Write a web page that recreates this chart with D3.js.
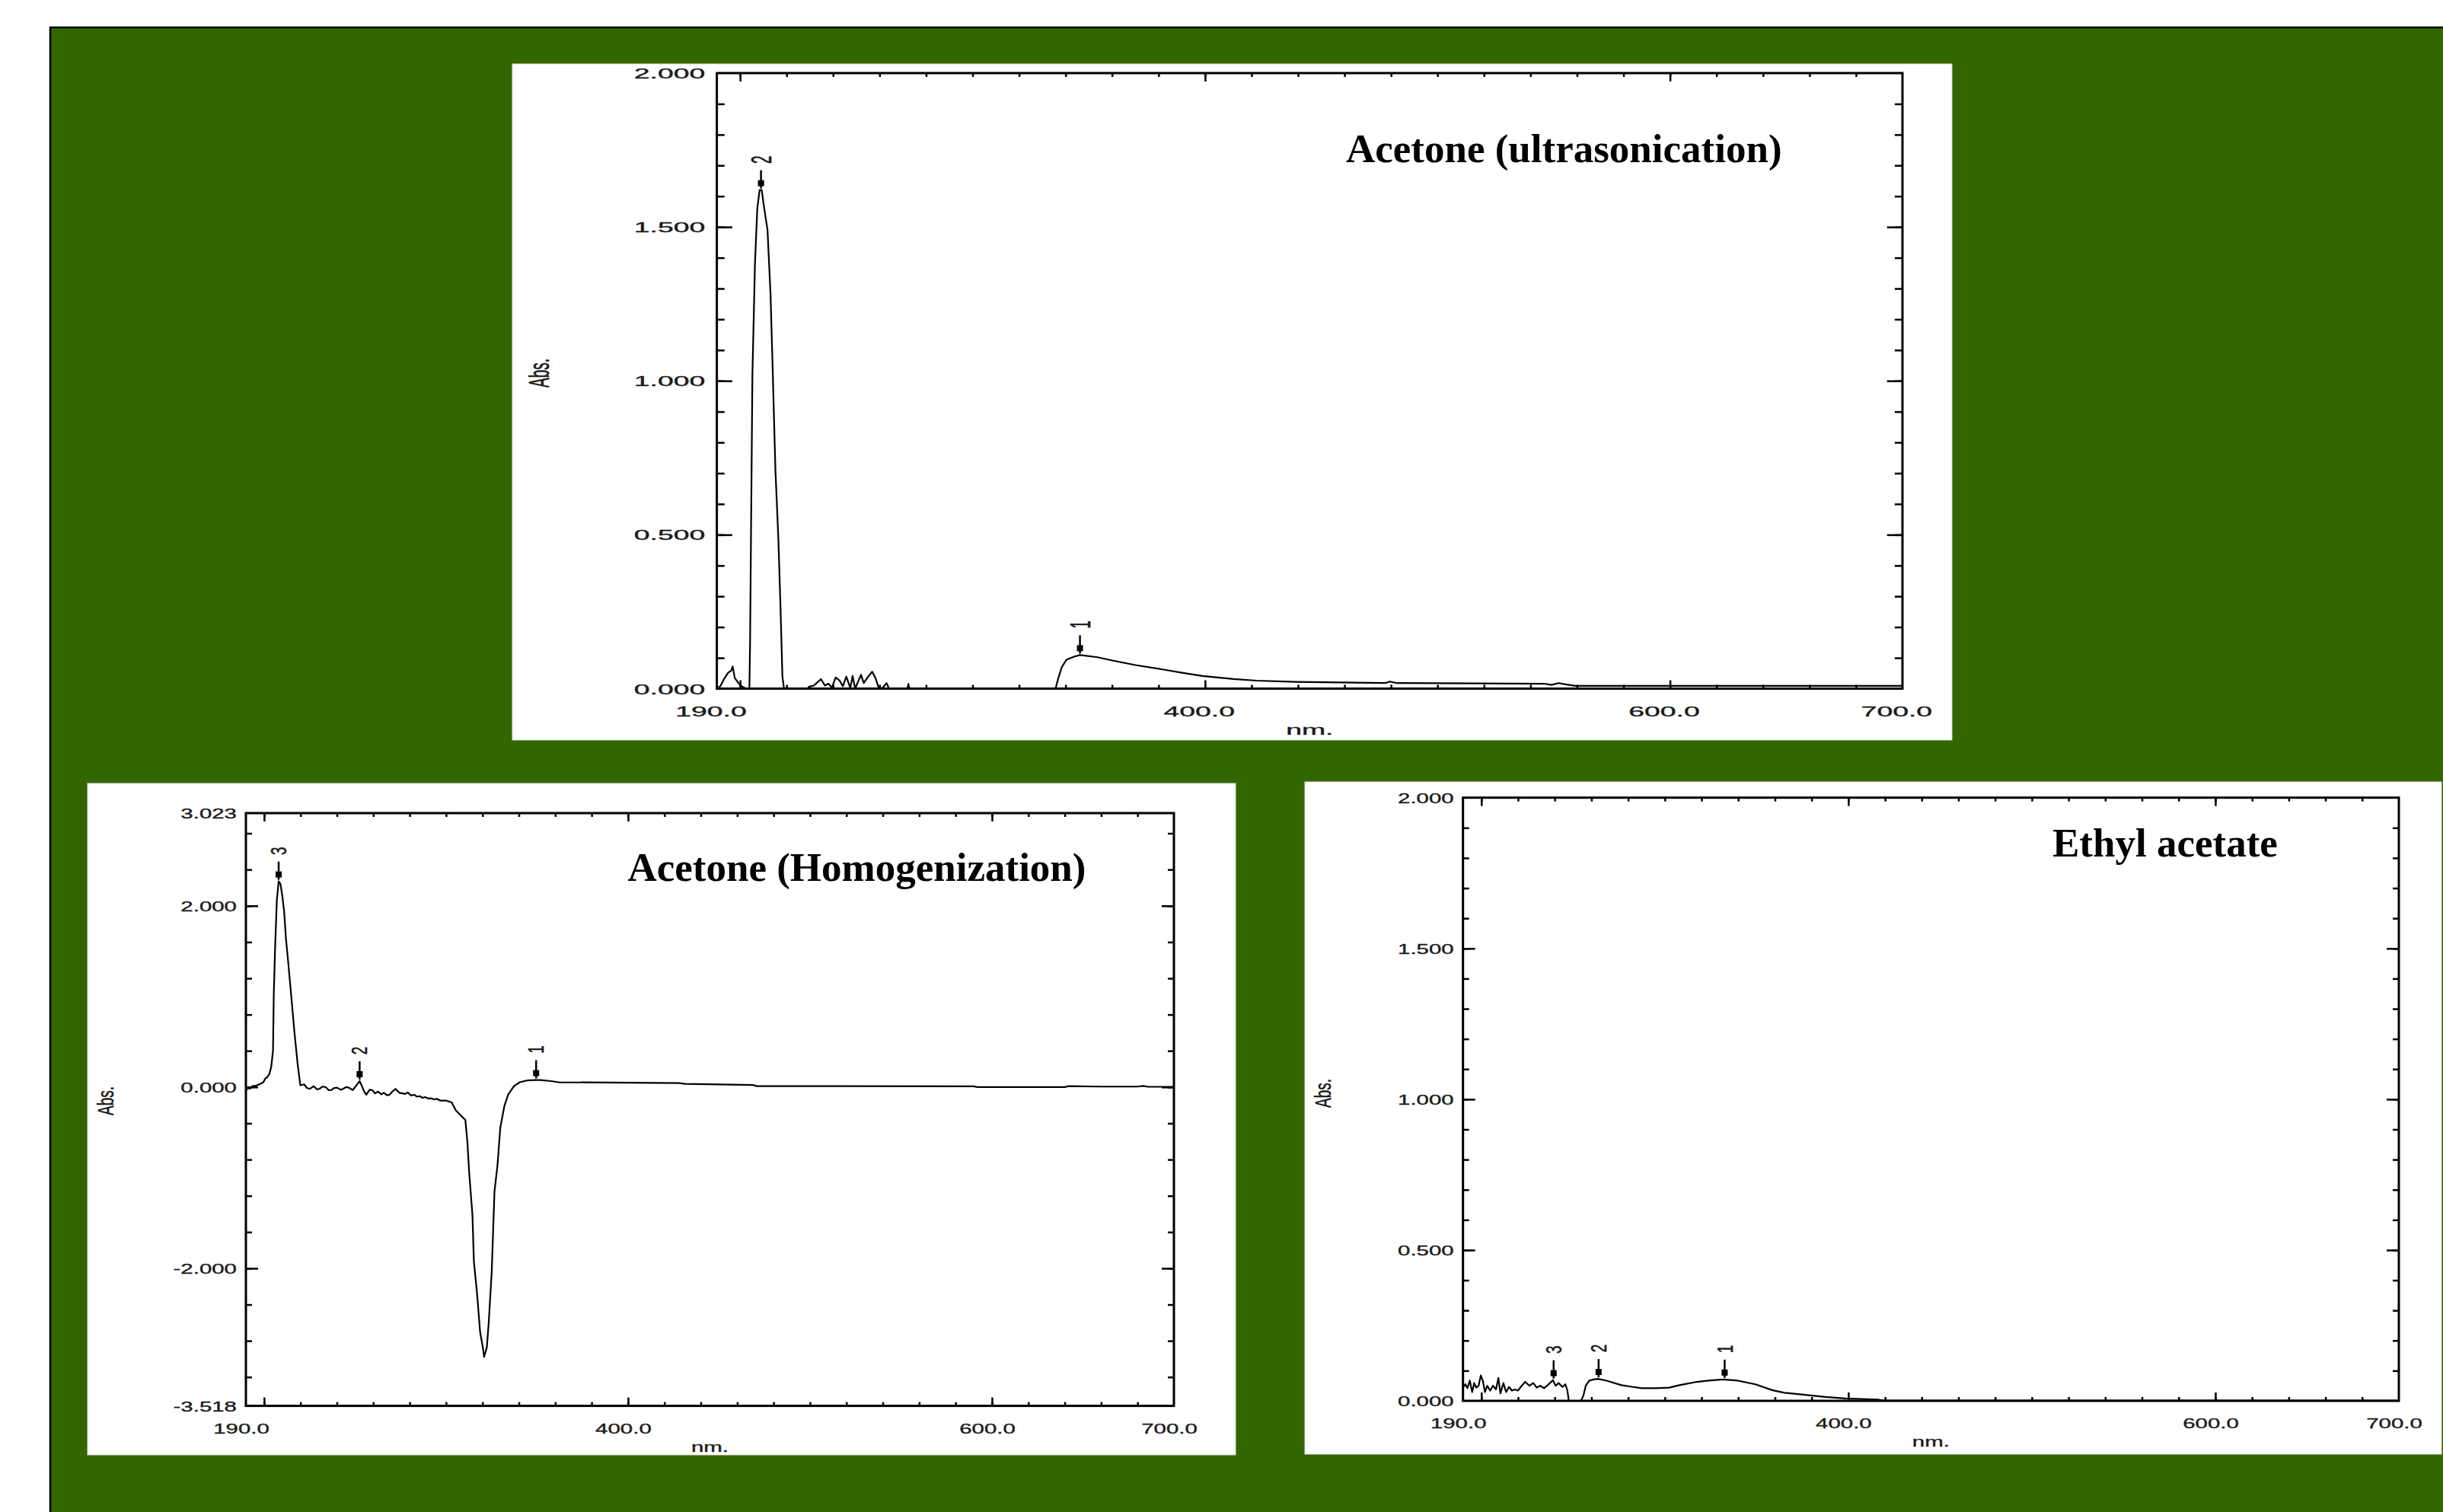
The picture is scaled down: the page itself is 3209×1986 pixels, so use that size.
<!DOCTYPE html>
<html lang="en">
<head>
<meta charset="UTF-8">
<title>UV-Vis spectra</title>
<script src="https://d3js.org/d3.v7.min.js"></script>
<style>
  body { margin: 0; background: #ffffff; }
  svg { display: block; }
  .tick-label { font-family: "Liberation Sans", Arial, sans-serif; font-size: 19px; fill: #1a1a1a; stroke: #1a1a1a; stroke-width: 0.35px; }
  .title { font-family: "Liberation Serif", "Times New Roman", serif; font-weight: bold; font-size: 53px; fill: #000; }
</style>
</head>
<body>
<svg id="chart" width="3209" height="1986"></svg>
<script>
// ---- data ----
// Acetone (ultrasonication)
const ultraNm  = [190, 191.5, 193.1, 194.8, 196.2, 196.8, 197.7, 199.3, 201.0, 202.5, 204.0, 204.3, 205.3, 206.4, 207.4, 208.4, 209.3, 210.2, 211.8, 213.1, 213.9, 215.2, 216.5, 217.4, 218.2, 218.9,
                  229.0, 229.6, 231.7, 234.8, 236.5, 238.0, 239.5, 241.1, 242.8, 244.2, 245.7, 247.4, 248.4, 249.5, 252.0, 253.2, 254.7, 256.8, 258.2, 259.5, 261.0, 263.0, 264.1, 272.0, 272.4, 272.8,
                  335.7, 337.0, 338.4, 340.4, 343.7, 346.2, 353.7, 360.4, 370.4, 380.5, 390.5, 398.8, 412.2, 422.2, 438.9, 477.4, 479.5, 482.5, 515.8, 545.9, 549.0, 552.0, 555.0, 559.2, 700];
const ultraAbs = [0, 0.008, 0.031, 0.051, 0.059, 0.072, 0.035, 0.018, 0.006, 0, 0, 0.15, 1.02, 1.38, 1.56, 1.62, 1.62, 1.57, 1.49, 1.28, 1.07, 0.71, 0.48, 0.26, 0.04, 0,
                  0, 0.006, 0.010, 0.031, 0.010, 0.016, 0.003, 0.036, 0.026, 0.008, 0.039, 0.002, 0.041, 0, 0.045, 0.018, 0.035, 0.055, 0.035, 0.006, 0, 0.018, 0, 0, 0.015, 0,
                  0, 0.037, 0.070, 0.094, 0.104, 0.109, 0.102, 0.091, 0.076, 0.064, 0.051, 0.041, 0.031, 0.026, 0.022, 0.018, 0.023, 0.018, 0.017, 0.016, 0.012, 0.018, 0.014, 0.009, 0.009];
const ultraPeakNm    = [209.0, 346.2];
const ultraPeakAbs   = [1.62, 0.109];
const ultraPeakLabel = ["2", "1"];

// Acetone (Homogenization)
const homoNm  = [190.0, 191.1, 192.1, 193.6, 195.3, 197.5, 199.6, 200.7, 201.7, 202.8, 203.9, 204.9, 205.3, 206.0, 207.0, 208.0, 209.0, 210.0, 211.0, 212.0, 213.1, 214.5, 215.6, 216.7, 218.4, 219.9,
                 222.0, 223.5, 225.2, 227.3, 229.0, 230.5, 232.0, 233.8, 235.5, 237.0, 238.5, 240.2, 242.0, 243.4, 245.0, 246.6, 248.7, 250.8, 252.5, 254.0, 255.0, 256.2, 258.0, 259.4, 261.0, 262.6,
                 264.5, 265.8, 267.5, 269.0, 270.5, 272.2, 274.3, 276.0, 277.5, 279.0, 280.7, 282.5, 283.9, 285.5, 287.1, 288.5, 290.3, 292.0, 293.5, 295.0, 296.7, 299.9, 303.1, 305.3, 308.5, 310.6,
                 311.7, 312.7, 314.5, 315.3, 317.0, 318.7, 320.2, 320.9, 322.4, 323.4, 325.1, 326.6, 328.3, 329.8, 332.0, 334.1, 337.3, 340.5, 344.8, 349.0, 352.0, 357.6, 361.9, 428.0, 431.2, 468.6,
                 470.7, 515.1, 590.0, 592.0, 640.0, 642.0, 660.0, 680.0, 683.0, 686.0, 700.0];
const homoAbs = [-0.04, -0.007, -0.02, 0.01, 0.014, 0.031, 0.053, 0.096, 0.108, 0.14, 0.22, 0.40, 1.0, 1.51, 2.06, 2.27, 2.24, 2.11, 1.94, 1.64, 1.41, 1.10, 0.85, 0.60, 0.26, 0.02,
                 0.03, -0.01, -0.02, 0.01, -0.025, -0.02, 0.005, 0.0, -0.035, -0.033, -0.01, -0.007, -0.03, -0.02, 0.0, -0.007, -0.033, 0.02, 0.066, 0.0, -0.05, -0.084, -0.03, -0.033, -0.07, -0.05,
                 -0.08, -0.063, -0.09, -0.084, -0.05, -0.02, -0.063, -0.07, -0.076, -0.06, -0.093, -0.085, -0.106, -0.10, -0.119, -0.11, -0.127, -0.125, -0.136, -0.13, -0.149, -0.149, -0.17, -0.256, -0.32, -0.363,
                 -0.60, -0.942, -1.414, -1.928, -2.271, -2.70, -2.871, -2.978, -2.871, -2.614, -2.035, -1.156, -0.856, -0.449, -0.213, -0.084, 0.01, 0.053, 0.074, 0.078, 0.078, 0.066, 0.053, 0.044, 0.035, 0.023,
                 0.010, 0.010, 0.008, 0.0, 0.0, 0.01, 0.005, 0.005, 0.012, 0.003, 0.003];
const homoPeakNm    = [208.0, 252.5, 349.5];
const homoPeakAbs   = [2.27, 0.066, 0.078];
const homoPeakLabel = ["3", "2", "1"];

// Ethyl acetate
const ethylNm  = [190.2, 191.3, 192.4, 193.7, 195.0, 196.1, 197.2, 198.5, 199.7, 200.8, 202.0, 203.2, 204.8, 206.4, 208.0, 209.3, 210.4, 212.0, 213.5, 215.1, 216.7, 218.3, 219.9, 222.0, 223.9, 226.2,
                  228.3, 230.2, 232.1, 234.2, 235.8, 237.4, 239.0, 240.5, 242.1, 244.2, 245.8, 246.9, 247.7, 254.3, 255.6, 256.9, 258.8, 261.2, 263.6, 268.3, 276.3, 282.6, 287.4, 295.3, 302.4, 308.0,
                  317.5, 323.9, 331.8, 339.8, 349.3, 358.8, 365.2, 371.5, 379.4, 387.4, 398.5, 416.0, 419.1, 700];
const ethylAbs = [0.046, 0.055, 0.042, 0.067, 0.029, 0.059, 0.044, 0.050, 0.084, 0.067, 0.029, 0.050, 0.034, 0.050, 0.038, 0.076, 0.025, 0.059, 0.029, 0.046, 0.034, 0.038, 0.034, 0.050, 0.063, 0.050,
                  0.059, 0.044, 0.050, 0.042, 0.050, 0.059, 0.069, 0.050, 0.059, 0.046, 0.055, 0.034, 0.0, 0.0, 0.017, 0.050, 0.067, 0.071, 0.073, 0.067, 0.052, 0.046, 0.042, 0.042, 0.044, 0.052,
                  0.063, 0.067, 0.071, 0.067, 0.055, 0.035, 0.027, 0.023, 0.018, 0.013, 0.008, 0.004, 0.001, 0.001];
const ethylPeakNm    = [239.4, 263.9, 332.6];
const ethylPeakAbs   = [0.069, 0.073, 0.071];
const ethylPeakLabel = ["3", "2", "1"];

// axis labels
const xTickLabels   = [190, 400, 600, 700];
const yLabelsUltra  = [0, 0.5, 1.0, 1.5, 2.0];
const yLabelsHomo   = [-3.518, -2.0, 0, 2.0, 3.023];
const yLabelsEthyl  = [0, 0.5, 1.0, 1.5, 2.0];

// ---- layout ----
const svg = d3.select("#chart");
const STRETCH = 1.55;   // the spectrometer screenshots are stretched sideways

// green slide background
svg.append("rect")
    .attr("x", 66).attr("y", 36)
    .attr("width", 3300).attr("height", 2100)
    .attr("fill", "#336600")
    .attr("stroke", "#000").attr("stroke-width", 2.5);

const panels = [
    { title: "Acetone (ultrasonication)", nm: ultraNm, abs: ultraAbs,
      peakNm: ultraPeakNm, peakAbs: ultraPeakAbs, peakLabel: ultraPeakLabel,
      yDomain: [0, 2], yLabels: yLabelsUltra, yMinorStep: 0.1, yMajor: [0.5, 1.0, 1.5],
      box: [673, 84, 1891, 888], plot: [941.6, 96, 2499, 904.5], hScale: 1.27,
      titlePos: [1768, 213], absPos: [708, 490] },
    { title: "Acetone (Homogenization)", nm: homoNm, abs: homoAbs,
      peakNm: homoPeakNm, peakAbs: homoPeakAbs, peakLabel: homoPeakLabel,
      yDomain: [-3.518, 3.023], yLabels: yLabelsHomo, yMinorStep: 0.4, yMajor: [-2, 0, 2],
      box: [115, 1029, 1508, 882], plot: [323, 1068, 1542, 1846.6], hScale: 1.0,
      titlePos: [824.5, 1157], absPos: [139, 1446] },
    { title: "Ethyl acetate", nm: ethylNm, abs: ethylAbs,
      peakNm: ethylPeakNm, peakAbs: ethylPeakAbs, peakLabel: ethylPeakLabel,
      yDomain: [0, 2], yLabels: yLabelsEthyl, yMinorStep: 0.1, yMajor: [0.5, 1.0, 1.5],
      box: [1714, 1027, 1493, 883], plot: [1921.7, 1047.7, 3151, 1840], hScale: 1.0,
      titlePos: [2696, 1125], absPos: [1738, 1436] }
];

panels.forEach(p => {
    const [bx, by, bw, bh] = p.box;
    const [x0, y0, x1, y1] = p.plot;
    const sx = STRETCH * p.hScale;

    svg.append("rect")
        .attr("x", bx).attr("y", by).attr("width", bw).attr("height", bh)
        .attr("fill", "#fff").attr("stroke", "#ddd").attr("stroke-width", 1);

    const x = d3.scaleLinear().domain([190, 700]).range([x0, x1]);
    const y = d3.scaleLinear().domain(p.yDomain).range([y1, y0]);

    const g = svg.append("g");

    // minor / major ticks on all four sides, pointing inwards
    const [lo, hi] = p.yDomain;
    const yMinor = d3.range(Math.ceil(lo / p.yMinorStep), Math.floor(hi / p.yMinorStep) + 1)
        .map(i => +(i * p.yMinorStep).toFixed(3))
        .filter(v => v > lo + 1e-6 && v < hi - 1e-6);
    const xMinor = d3.range(200, 700, 20);
    const xMajor = [200, 400, 600];
    const yMinorLen = -8 * p.hScale, yMajorLen = -16 * p.hScale;

    const tickAxes = [
        [d3.axisBottom(x).tickValues(xMinor).tickSize(-5), `translate(0,${y1})`],
        [d3.axisBottom(x).tickValues(xMajor).tickSize(-11), `translate(0,${y1})`],
        [d3.axisTop(x).tickValues(xMinor).tickSize(-5), `translate(0,${y0})`],
        [d3.axisTop(x).tickValues(xMajor).tickSize(-11), `translate(0,${y0})`],
        [d3.axisLeft(y).tickValues(yMinor).tickSize(yMinorLen), `translate(${x0},0)`],
        [d3.axisLeft(y).tickValues(p.yMajor).tickSize(yMajorLen), `translate(${x0},0)`],
        [d3.axisRight(y).tickValues(yMinor).tickSize(yMinorLen), `translate(${x1},0)`],
        [d3.axisRight(y).tickValues(p.yMajor).tickSize(yMajorLen), `translate(${x1},0)`]
    ];
    tickAxes.forEach(([axis, tr]) => {
        g.append("g")
            .attr("transform", tr)
            .call(axis.tickFormat(""))
            .call(a => a.select(".domain").remove())
            .call(a => a.selectAll("line").attr("stroke", "#000").attr("stroke-width", 2.5));
    });

    // frame
    g.append("rect")
        .attr("x", x0).attr("y", y0).attr("width", x1 - x0).attr("height", y1 - y0)
        .attr("fill", "none").attr("stroke", "#000").attr("stroke-width", 3);

    // tick labels (sit a little left of their tick in the original)
    const xShift = -6 * p.hScale;
    g.selectAll(".xl").data(xTickLabels).enter().append("text")
        .attr("class", "tick-label")
        .attr("text-anchor", "middle")
        .attr("transform", d => `translate(${x(d) + xShift},${y1 + 36}) scale(${sx},1)`)
        .text(d => d.toFixed(1));

    g.selectAll(".yl").data(p.yLabels).enter().append("text")
        .attr("class", "tick-label")
        .attr("text-anchor", "end")
        .attr("transform", d => `translate(${x0 - 12 * p.hScale},${y(d) + 7}) scale(${sx},1)`)
        .text(d => d.toFixed(3));

    g.append("text")
        .attr("class", "tick-label")
        .attr("text-anchor", "middle")
        .attr("transform", `translate(${(x0 + x1) / 2},${y1 + 60}) scale(${sx},1)`)
        .text("nm.");

    g.append("text")
        .attr("class", "tick-label")
        .attr("text-anchor", "middle")
        .attr("dominant-baseline", "central")
        .attr("transform", `translate(${p.absPos[0]},${p.absPos[1]}) scale(${sx},1) rotate(-90)`)
        .text("Abs.");

    // spectrum
    const pts = p.nm.map((v, i) => [v, p.abs[i]]);
    const line = d3.line().x(d => x(d[0])).y(d => y(d[1]));
    g.append("path")
        .datum(pts)
        .attr("fill", "none")
        .attr("stroke", "#000")
        .attr("stroke-width", 2.2)
        .attr("stroke-linejoin", "round")
        .attr("d", line);

    // peak pick markers
    p.peakNm.forEach((nm, i) => {
        const px = x(nm), py = y(p.peakAbs[i]);
        g.append("line")
            .attr("x1", px).attr("x2", px)
            .attr("y1", py - 26).attr("y2", py - 2)
            .attr("stroke", "#000").attr("stroke-width", 2.5);
        g.append("rect")
            .attr("x", px - 4).attr("y", py - 13)
            .attr("width", 8).attr("height", 8)
            .attr("fill", "#000");
        g.append("text")
            .attr("class", "tick-label")
            .attr("text-anchor", "middle")
            .attr("dominant-baseline", "central")
            .attr("transform", `translate(${px},${py - 40}) scale(${sx},1) rotate(-90)`)
            .text(p.peakLabel[i]);
    });

    // title
    svg.append("text")
        .attr("class", "title")
        .attr("x", p.titlePos[0]).attr("y", p.titlePos[1])
        .text(p.title);
});
</script>
</body>
</html>
